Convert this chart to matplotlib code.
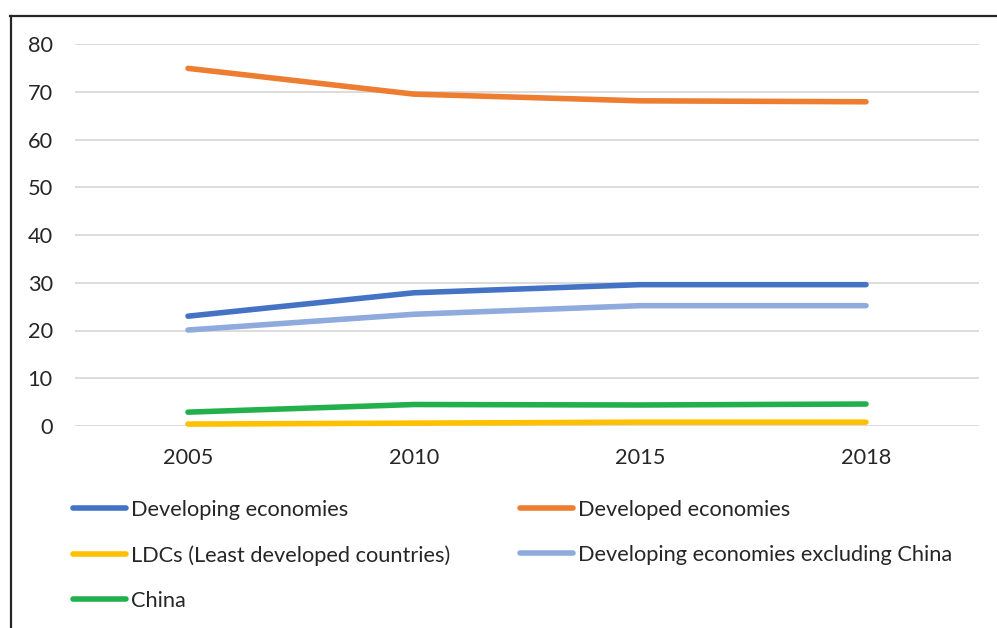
import matplotlib
matplotlib.use('Agg')
import matplotlib.pyplot as plt
from matplotlib.lines import Line2D

# data
years = ['2005', '2010', '2015', '2018']
developing = [23.0, 27.9, 29.6, 29.6]
developed = [74.9, 69.5, 68.1, 67.9]
ldcs = [0.4, 0.6, 0.8, 0.8]
dev_ex_china = [20.1, 23.4, 25.2, 25.2]
china = [2.9, 4.5, 4.4, 4.6]

names = ['Developing economies', 'Developed economies',
         'LDCs (Least developed countries)', 'Developing economies excluding China',
         'China']
colors = ['#4472C4', '#ED7D31', '#FFC000', '#8FAADC', '#22B04C']
series = [developing, developed, ldcs, dev_ex_china, china]

plt.rcParams['font.family'] = ['Lato', 'DejaVu Sans']

fig = plt.figure(figsize=(9.97, 6.28), dpi=100)
ax = fig.add_axes([75/997, 1-426/628, (979-75)/997, (426-44)/628])

x = list(range(len(years)))
lines = {}
for name, col, vals in zip(names, colors, series):
    ln, = ax.plot(x, vals, color=col, lw=4.0, solid_capstyle='round',
                  solid_joinstyle='round', clip_on=False, label=name)
    lines[name] = ln

ax.set_xlim(-0.5, 3.5)
ax.set_ylim(0, 80)
ax.set_yticks(range(0, 81, 10))
ax.set_xticks(x)
ax.set_xticklabels(years)
ax.grid(axis='y', color='#D9D9D9', lw=1.3)
ax.set_axisbelow(True)
for s in ax.spines.values():
    s.set_visible(False)
ax.tick_params(length=0, labelsize=15.7, colors='#262626')
ax.tick_params(axis='y', pad=16)
ax.tick_params(axis='x', pad=16)

order = ['Developing economies', 'LDCs (Least developed countries)', 'China',
         'Developed economies', 'Developing economies excluding China']
fig.legend([lines[n] for n in order], order, ncol=2, frameon=False,
           loc='upper left', bbox_to_anchor=(73/997, 1-500/628),
           fontsize=15.7, handlelength=2.42, handletextpad=0.23,
           columnspacing=3.2, labelspacing=1.15, borderaxespad=0, borderpad=0,
           labelcolor='#262626')

# outer frame (cropped at right and bottom)
fig.add_artist(Line2D([10.5/997, 10.5/997], [0, 1-15.5/628], color='#262626', lw=1.6,
                      transform=fig.transFigure))
fig.add_artist(Line2D([10/997, 1], [1-15.5/628, 1-15.5/628], color='#262626', lw=1.6,
                      transform=fig.transFigure))

fig.savefig('out.png', dpi=100)
